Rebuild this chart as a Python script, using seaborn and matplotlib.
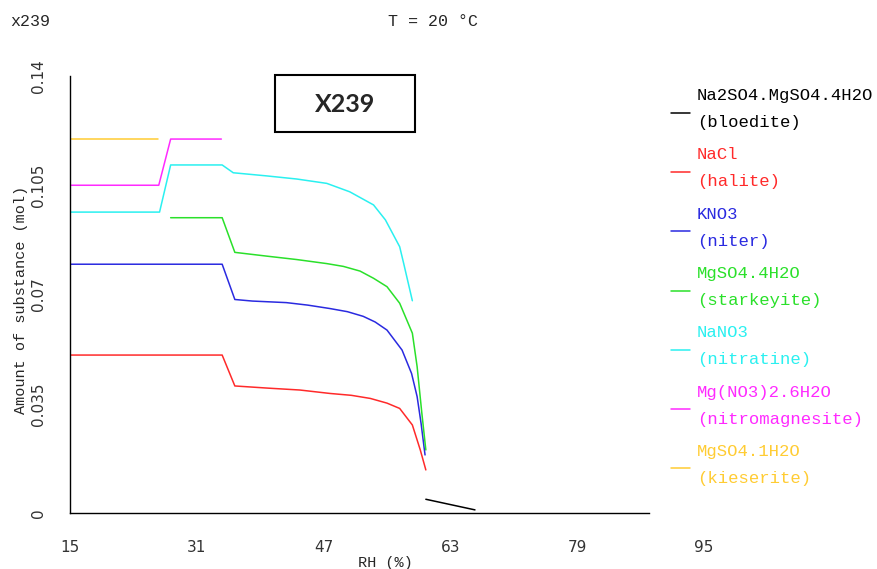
"""
Phase diagram plot: amount of solid phases vs relative humidity (x239, T = 20 C)
"""

import matplotlib
matplotlib.use("Agg")
import matplotlib.pyplot as plt
from matplotlib.lines import Line2D
from matplotlib.patches import Rectangle
import seaborn as sns
import pandas as pd

# ---- data ----
phases = ['Na2SO4.MgSO4.4H2O\n(bloedite)', 'NaCl\n(halite)', 'KNO3\n(niter)',
          'MgSO4.4H2O\n(starkeyite)', 'NaNO3\n(nitratine)',
          'Mg(NO3)2.6H2O\n(nitromagnesite)', 'MgSO4.1H2O\n(kieserite)']
colors = ['#000000', '#ff2a2a', '#2a2ae0', '#2ae02a', '#2af0f0', '#ff2aff', '#ffcc33']

bloedite_rh = [59.9, 66.1]
bloedite_mol = [0.0044, 0.0010]

halite_rh = [15, 34.2, 35.8, 40, 44, 47.8, 50.5, 52.9, 55, 56.6, 58.2, 59.2, 59.9]
halite_mol = [0.0506, 0.0506, 0.0407, 0.0400, 0.0394, 0.0383, 0.0377, 0.0367,
              0.0352, 0.0335, 0.0282, 0.0202, 0.0138]

niter_rh = [15, 34.2, 35.8, 38, 42.3, 45, 47.8, 50, 52, 53.5, 55, 56.9, 58.1,
            58.8, 59.3, 59.8]
niter_mol = [0.0797, 0.0797, 0.0684, 0.0679, 0.0674, 0.0666, 0.0655, 0.0645,
             0.0630, 0.0612, 0.0586, 0.0522, 0.0447, 0.0373, 0.0287, 0.0186]

starkeyite_rh = [27.7, 34.2, 35.8, 39.8, 43.6, 47.4, 49.5, 51.6, 53.3, 55,
                 56.6, 58.2, 58.8, 59.4, 59.9]
starkeyite_mol = [0.0946, 0.0946, 0.0835, 0.0823, 0.0812, 0.0799, 0.0790,
                  0.0775, 0.0752, 0.0725, 0.0672, 0.0576, 0.0469, 0.0319, 0.0202]

nitratine_rh = [15, 26.3, 27.7, 34.2, 35.6, 39.8, 43.6, 47.4, 50.3, 53.3,
                54.8, 56.6, 57.1, 58.2]
nitratine_mol = [0.0964, 0.0964, 0.1115, 0.1115, 0.1090, 0.1080, 0.1070,
                 0.1056, 0.1029, 0.0987, 0.0939, 0.0853, 0.0800, 0.0680]

nitromag_rh = [15, 26.2, 27.7, 34.1]
nitromag_mol = [0.105, 0.105, 0.1198, 0.1198]

kieserite_rh = [15, 26.1]
kieserite_mol = [0.1198, 0.1198]

x_ticks = [15, 31, 47, 63, 79, 95]
y_ticks = [0, 0.035, 0.07, 0.105, 0.14]
y_tick_labels = ['0', '0.035', '0.07', '0.105', '0.14']

series = [(bloedite_rh, bloedite_mol), (halite_rh, halite_mol),
          (niter_rh, niter_mol), (starkeyite_rh, starkeyite_mol),
          (nitratine_rh, nitratine_mol), (nitromag_rh, nitromag_mol),
          (kieserite_rh, kieserite_mol)]

frames = []
for name, (rh, mol) in zip(phases, series):
    frames.append(pd.DataFrame({'RH': rh, 'mol': mol, 'phase': name}))
df = pd.concat(frames, ignore_index=True)

# ---- figure ----
sns.set_style("white")
mono = 'Liberation Mono'
W, H = 878, 569

fig = plt.figure(figsize=(8.78, 5.69), dpi=100)
ax = fig.add_axes([70 / W, 1 - 513 / H, 634 / W, 437 / H])

sns.lineplot(data=df, x='RH', y='mol', hue='phase', hue_order=phases,
             palette=dict(zip(phases, colors)), estimator=None, sort=False,
             linewidth=1.1, legend=False, ax=ax)

ax.set_xlim(15, 95)
ax.set_ylim(0, 0.14)
ax.set_xticks(x_ticks)
ax.set_xticklabels([str(t) for t in x_ticks])
ax.set_yticks(y_ticks)
ax.set_yticklabels(y_tick_labels, rotation=90, va='center')
ax.xaxis.get_major_ticks()[-1].tick1line.set_visible(False)

for side in ['top', 'right']:
    ax.spines[side].set_visible(False)
for side in ['left', 'bottom']:
    ax.spines[side].set_color('black')
    ax.spines[side].set_linewidth(1.0)
ax.spines['bottom'].set_bounds(15, 88)

ax.tick_params(axis='both', direction='out', length=3, width=1, color='black',
               labelsize=11, labelcolor='#333333')
ax.tick_params(axis='x', pad=16.5)
ax.tick_params(axis='y', pad=14)

ax.set_xlabel('RH (%)', fontfamily=mono, fontsize=11)
ax.xaxis.set_label_coords(0.497, -0.098)
ax.set_ylabel('Amount of substance (mol)', fontfamily=mono, fontsize=11)
ax.yaxis.set_label_coords(-0.066, 0.487)

# header texts
fig.text(10 / W, 1 - 22 / H, 'x239', fontfamily=mono, fontsize=12, va='center')
fig.text(433 / W, 1 - 22 / H, 'T = 20 °C', fontfamily=mono, fontsize=12,
         va='center', ha='center')

# sample label box
fig.patches.append(Rectangle((275 / W, 1 - 132 / H), 140 / W, 57 / H,
                             transform=fig.transFigure, fill=False,
                             edgecolor='black', linewidth=1.5))
fig.text(345 / W, 1 - 104 / H, 'X239', fontfamily='Lato', fontweight='bold',
         fontsize=18, ha='center', va='center')

# legend on the right: short colour line + two-line coloured label
for i, (label, c) in enumerate(zip(phases, colors)):
    y0 = 112.7 + i * 59.3
    fig.add_artist(Line2D([671 / W, 690 / W], [1 - y0 / H, 1 - y0 / H],
                          transform=fig.transFigure, color=c, linewidth=1.1))
    fig.text(697 / W, 1 - (y0 - 3.5) / H, label, color=c, fontfamily=mono,
             fontsize=12.4, va='center', ha='left', linespacing=2.0)

plt.savefig('out.png', dpi=100)
plt.close()
